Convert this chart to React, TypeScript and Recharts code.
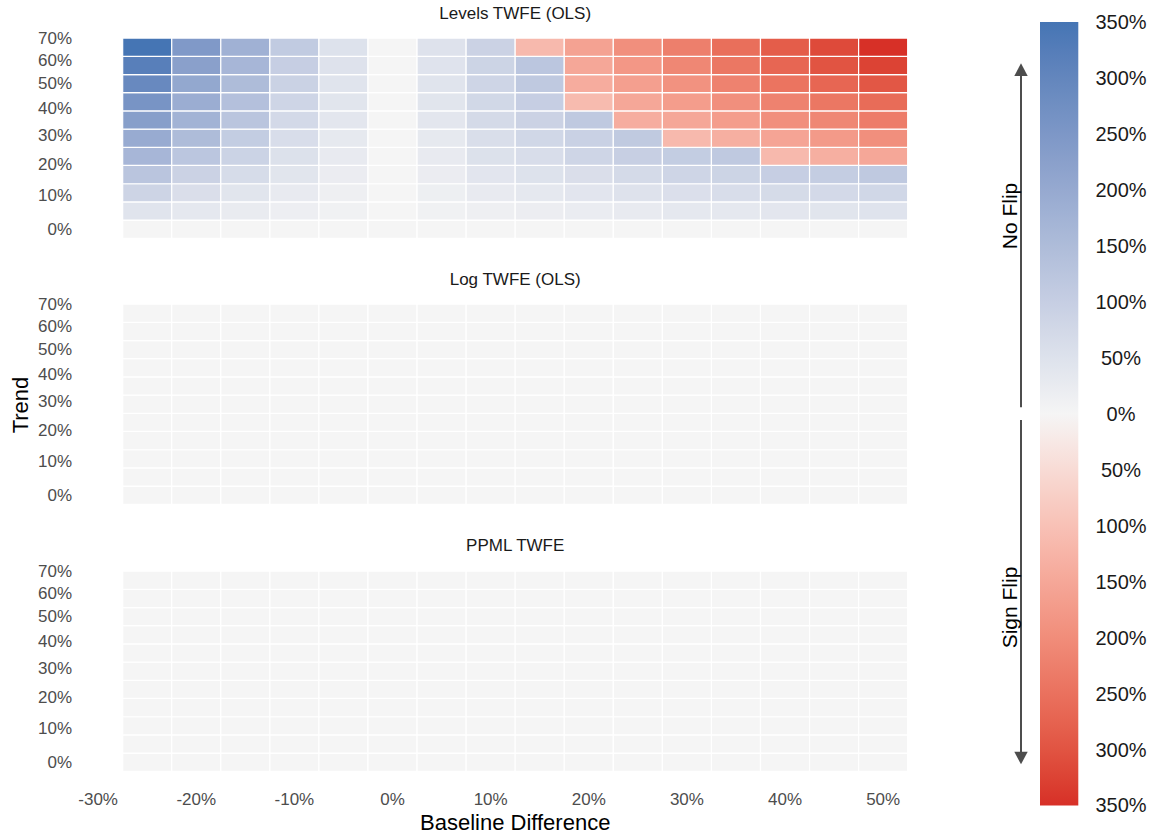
import { ReferenceArea, Scatter, ScatterChart, XAxis, YAxis } from "recharts";

// column centres (baseline difference)
const baselineDiffs = [-0.25, -0.2, -0.15, -0.1, -0.05, 0, 0.05, 0.1, 0.15, 0.2, 0.25, 0.3, 0.35, 0.4, 0.45, 0.5];
// row centres (trend), bottom -> top, evenly spaced on the log(1 + trend) axis
const trendRows = [0, 0.052, 0.106, 0.164, 0.224, 0.287, 0.354, 0.424, 0.498, 0.575, 0.657];

// bias in %, rows bottom -> top. positive = no flip (blue), negative = sign flip (red)
const levelsTwfe = [
  [0, 0, 0, 0, 0, 0, 0, 0, 0, 0, 0, 0, 0, 0, 0, 0],
  [44, 33, 25, 17, 10, 0, 10, 15, 20, 24, 28, 34, 34, 38, 42, 46],
  [85, 58, 42, 28, 15, 0, 16, 28, 34, 40, 48, 56, 62, 68, 72, 78],
  [125, 90, 65, 42, 22, 0, 22, 40, 50, 58, 70, 82, 86, 100, 104, 115],
  [165, 122, 88, 52, 27, 0, 28, 52, 62, 82, 98, 105, 115, -115, -135, -150],
  [195, 150, 105, 62, 32, 0, 32, 60, 78, 94, 112, -115, -135, -155, -175, -195],
  [230, 175, 125, 72, 38, 0, 38, 70, 90, 114, -138, -150, -170, -195, -210, -230],
  [260, 190, 138, 82, 42, 0, 42, 76, 100, -112, -150, -170, -195, -220, -240, -260],
  [290, 205, 150, 92, 45, 0, 44, 82, 114, -140, -165, -190, -220, -245, -270, -295],
  [320, 225, 165, 100, 48, 0, 46, 86, 122, -150, -180, -210, -240, -270, -300, -325],
  [350, 245, 180, 110, 50, 0, 48, 90, -115, -160, -195, -225, -255, -285, -315, -350],
];

const logTwfe = [
  [0, 0, 0, 0, 0, 0, 0, 0, 0, 0, 0, 0, 0, 0, 0, 0],
  [0, 0, 0, 0, 0, 0, 0, 0, 0, 0, 0, 0, 0, 0, 0, 0],
  [0, 0, 0, 0, 0, 0, 0, 0, 0, 0, 0, 0, 0, 0, 0, 0],
  [0, 0, 0, 0, 0, 0, 0, 0, 0, 0, 0, 0, 0, 0, 0, 0],
  [0, 0, 0, 0, 0, 0, 0, 0, 0, 0, 0, 0, 0, 0, 0, 0],
  [0, 0, 0, 0, 0, 0, 0, 0, 0, 0, 0, 0, 0, 0, 0, 0],
  [0, 0, 0, 0, 0, 0, 0, 0, 0, 0, 0, 0, 0, 0, 0, 0],
  [0, 0, 0, 0, 0, 0, 0, 0, 0, 0, 0, 0, 0, 0, 0, 0],
  [0, 0, 0, 0, 0, 0, 0, 0, 0, 0, 0, 0, 0, 0, 0, 0],
  [0, 0, 0, 0, 0, 0, 0, 0, 0, 0, 0, 0, 0, 0, 0, 0],
  [0, 0, 0, 0, 0, 0, 0, 0, 0, 0, 0, 0, 0, 0, 0, 0],
];

const ppmlTwfe = [
  [0, 0, 0, 0, 0, 0, 0, 0, 0, 0, 0, 0, 0, 0, 0, 0],
  [0, 0, 0, 0, 0, 0, 0, 0, 0, 0, 0, 0, 0, 0, 0, 0],
  [0, 0, 0, 0, 0, 0, 0, 0, 0, 0, 0, 0, 0, 0, 0, 0],
  [0, 0, 0, 0, 0, 0, 0, 0, 0, 0, 0, 0, 0, 0, 0, 0],
  [0, 0, 0, 0, 0, 0, 0, 0, 0, 0, 0, 0, 0, 0, 0, 0],
  [0, 0, 0, 0, 0, 0, 0, 0, 0, 0, 0, 0, 0, 0, 0, 0],
  [0, 0, 0, 0, 0, 0, 0, 0, 0, 0, 0, 0, 0, 0, 0, 0],
  [0, 0, 0, 0, 0, 0, 0, 0, 0, 0, 0, 0, 0, 0, 0, 0],
  [0, 0, 0, 0, 0, 0, 0, 0, 0, 0, 0, 0, 0, 0, 0, 0],
  [0, 0, 0, 0, 0, 0, 0, 0, 0, 0, 0, 0, 0, 0, 0, 0],
  [0, 0, 0, 0, 0, 0, 0, 0, 0, 0, 0, 0, 0, 0, 0, 0],
];

const panelTitles = ["Levels TWFE (OLS)", "Log TWFE (OLS)", "PPML TWFE"];
const xTicks = [-0.3, -0.2, -0.1, 0, 0.1, 0.2, 0.3, 0.4, 0.5];
const yTicks = [0, 0.1, 0.2, 0.3, 0.4, 0.5, 0.6, 0.7];
const legendTicks = [350, 300, 250, 200, 150, 100, 50, 0, -50, -100, -150, -200, -250, -300, -350];

// ---- colour scale (lab interpolation like scale_fill_gradient2) ----
const MID = "#f5f5f5";
const BLUE = "#4575b4";
const RED = "#d73027";

const toLab = (hex: string) => {
  const [r, g, b] = [1, 3, 5]
    .map((i) => parseInt(hex.slice(i, i + 2), 16) / 255)
    .map((c) => (c <= 0.04045 ? c / 12.92 : Math.pow((c + 0.055) / 1.055, 2.4)));
  const X = (0.4124 * r + 0.3576 * g + 0.1805 * b) / 0.95047;
  const Y = 0.2126 * r + 0.7152 * g + 0.0722 * b;
  const Z = (0.0193 * r + 0.1192 * g + 0.9505 * b) / 1.08883;
  const f = (t: number) => (t > 0.008856 ? Math.cbrt(t) : 7.787 * t + 16 / 116);
  return [116 * f(Y) - 16, 500 * (f(X) - f(Y)), 200 * (f(Y) - f(Z))];
};

const fromLab = ([L, a, bb]: number[]) => {
  const fy = (L + 16) / 116;
  const fx = fy + a / 500;
  const fz = fy - bb / 200;
  const inv = (t: number) => (t * t * t > 0.008856 ? t * t * t : (t - 16 / 116) / 7.787);
  const X = inv(fx) * 0.95047;
  const Y = inv(fy);
  const Z = inv(fz) * 1.08883;
  const lin = [
    3.2406 * X - 1.5372 * Y - 0.4986 * Z,
    -0.9689 * X + 1.8758 * Y + 0.0415 * Z,
    0.0557 * X - 0.204 * Y + 1.057 * Z,
  ];
  return (
    "#" +
    lin
      .map((c) => (c <= 0.0031308 ? 12.92 * c : 1.055 * Math.pow(c, 1 / 2.4) - 0.055))
      .map((c) => Math.round(Math.min(1, Math.max(0, c)) * 255).toString(16).padStart(2, "0"))
      .join("")
  );
};

const midLab = toLab(MID);
const blueLab = toLab(BLUE);
const redLab = toLab(RED);

const fillFor = (v: number) => {
  const t = Math.min(Math.abs(v) / 350, 1);
  const end = v >= 0 ? blueLab : redLab;
  return fromLab(midLab.map((m, i) => m + (end[i] - m) * t));
};

// ---- geometry on the log(1 + trend) axis ----
const yPos = trendRows.map((t) => Math.log1p(t));
const rowLow = yPos.map((y, i) => (i === 0 ? y - (yPos[1] - yPos[0]) / 2 : (y + yPos[i - 1]) / 2));
const rowHigh = yPos.map((y, i) =>
  i === yPos.length - 1 ? y + (y - yPos[i - 1]) / 2 : (y + yPos[i + 1]) / 2
);
const COL_HALF = 0.025;
const Y_DOMAIN = [rowLow[0], Math.log1p(0.7)];
const X_DOMAIN = [-0.325, 0.525];

const buildTiles = (values: number[][]) =>
  values.flatMap((row, r) =>
    row.map((v, c) => ({ x: baselineDiffs[c], y: yPos[r], v, r }))
  );

const pct = (v: number) => `${Math.round(v * 100)}%`;
const renderNothing = () => <g />;

const FONT = "'Liberation Sans', Arial, Helvetica, sans-serif";
const PLOT_H = 200.4;
const panelTops = [38.3, 304.3, 570.5];
const CHART_W = 920;

const Panel = ({ values, showX }: { values: number[][]; showX: boolean }) => {
  const tiles = buildTiles(values);
  const xAxisH = showX ? 45 : 0;
  return (
    <ScatterChart
      width={CHART_W}
      height={12 + PLOT_H + (showX ? xAxisH : 12)}
      margin={{ top: 12, right: 12.3, bottom: showX ? 0 : 12, left: 0 }}
    >
      <XAxis
        type="number"
        dataKey="x"
        domain={X_DOMAIN}
        ticks={xTicks}
        interval={0}
        hide={!showX}
        height={xAxisH}
        axisLine={false}
        tickLine={false}
        tickSize={0}
        tickMargin={22}
        tickFormatter={pct}
        tick={{ fill: "#4d4d4d", fontSize: 17 }}
      />
      <YAxis
        type="number"
        dataKey="y"
        domain={Y_DOMAIN}
        ticks={yTicks.map((t) => Math.log1p(t))}
        interval={0}
        width={73.6}
        axisLine={false}
        tickLine={false}
        tickSize={0}
        tickMargin={1.6}
        tickFormatter={(v: number) => pct(Math.expm1(v))}
        tick={{ fill: "#4d4d4d", fontSize: 17 }}
      />
      {tiles.map((t, i) => (
        <ReferenceArea
          key={i}
          x1={t.x - COL_HALF}
          x2={t.x + COL_HALF}
          y1={rowLow[t.r]}
          y2={rowHigh[t.r]}
          fill={fillFor(t.v)}
          fillOpacity={1}
          stroke="#ffffff"
          strokeWidth={1.2}
          ifOverflow="visible"
        />
      ))}
      <Scatter data={tiles} shape={renderNothing} isAnimationActive={false} />
    </ScatterChart>
  );
};

const legendData = legendTicks.map((v) => ({ x: 0.5, v }));
const gradientStops = legendTicks.flatMap((v, i) =>
  i === 0 ? [v] : [v + 25, v]
);

const LegendTick = (props: any) => {
  const { x, y, payload } = props;
  return (
    <text x={x + 42.7} y={y} dy="0.355em" textAnchor="middle" fontSize={20} fill="#1a1a1a">
      {`${Math.abs(payload.value)}%`}
    </text>
  );
};

const FlipLegend = () => (
  <ScatterChart width={157} height={807.4} margin={{ top: 12, right: 0, bottom: 12, left: 40 }}>
    <XAxis type="number" dataKey="x" domain={[0, 1]} hide />
    <YAxis
      type="number"
      dataKey="v"
      orientation="right"
      domain={[-350, 350]}
      ticks={legendTicks}
      interval={0}
      width={78.7}
      axisLine={false}
      tickLine={false}
      tickSize={0}
      tickMargin={0}
      tick={LegendTick}
    />
    <ReferenceArea
      x1={0}
      x2={1}
      y1={-350}
      y2={350}
      fill="url(#flipGradient)"
      fillOpacity={1}
      stroke="none"
      ifOverflow="visible"
    />
    <Scatter data={legendData} shape={renderNothing} isAnimationActive={false} />
  </ScatterChart>
);

export default function App() {
  const panels = [levelsTwfe, logTwfe, ppmlTwfe];
  return (
    <div
      style={{
        position: "absolute",
        left: 0,
        top: 0,
        width: 1157,
        height: 836,
        background: "#ffffff",
        fontFamily: FONT,
      }}
    >
      <svg width={0} height={0} style={{ position: "absolute" }}>
        <defs>
          <linearGradient id="flipGradient" x1="0" y1="0" x2="0" y2="1">
            {gradientStops.map((v, i) => (
              <stop key={i} offset={(350 - v) / 700} stopColor={fillFor(v)} />
            ))}
          </linearGradient>
        </defs>
      </svg>

      {panels.map((vals, i) => (
        <div key={i} style={{ position: "absolute", left: 0, top: panelTops[i] - 12 }}>
          <Panel values={vals} showX={i === 2} />
        </div>
      ))}

      <div style={{ position: "absolute", left: 1000, top: 10.3 }}>
        <FlipLegend />
      </div>

      <svg
        width={1157}
        height={836}
        style={{ position: "absolute", left: 0, top: 0, pointerEvents: "none" }}
        fontFamily={FONT}
      >
        {panelTitles.map((t, i) => (
          <text key={t} x={515.2} y={panelTops[i] - 19.8} textAnchor="middle" fontSize={17} fill="#1a1a1a">
            {t}
          </text>
        ))}
        <text x={515.2} y={830} textAnchor="middle" fontSize={22} fill="#000000">
          Baseline Difference
        </text>
        <text transform="translate(28.3, 405) rotate(-90)" textAnchor="middle" fontSize={22} fill="#000000">
          Trend
        </text>

        <line x1={1021} y1={75} x2={1021} y2={407.3} stroke="#4d4d4d" strokeWidth={2} />
        <polygon points="1014.3,76 1027.7,76 1021,63.3" fill="#4d4d4d" />
        <line x1={1021} y1={420} x2={1021} y2={752.7} stroke="#4d4d4d" strokeWidth={2} />
        <polygon points="1014.3,751.7 1027.7,751.7 1021,764.3" fill="#4d4d4d" />

        <text transform="translate(1017.3, 216) rotate(-90)" textAnchor="middle" fontSize={21} fill="#000000">
          No Flip
        </text>
        <text transform="translate(1017.3, 607.5) rotate(-90)" textAnchor="middle" fontSize={21} fill="#000000">
          Sign Flip
        </text>
      </svg>
    </div>
  );
}
